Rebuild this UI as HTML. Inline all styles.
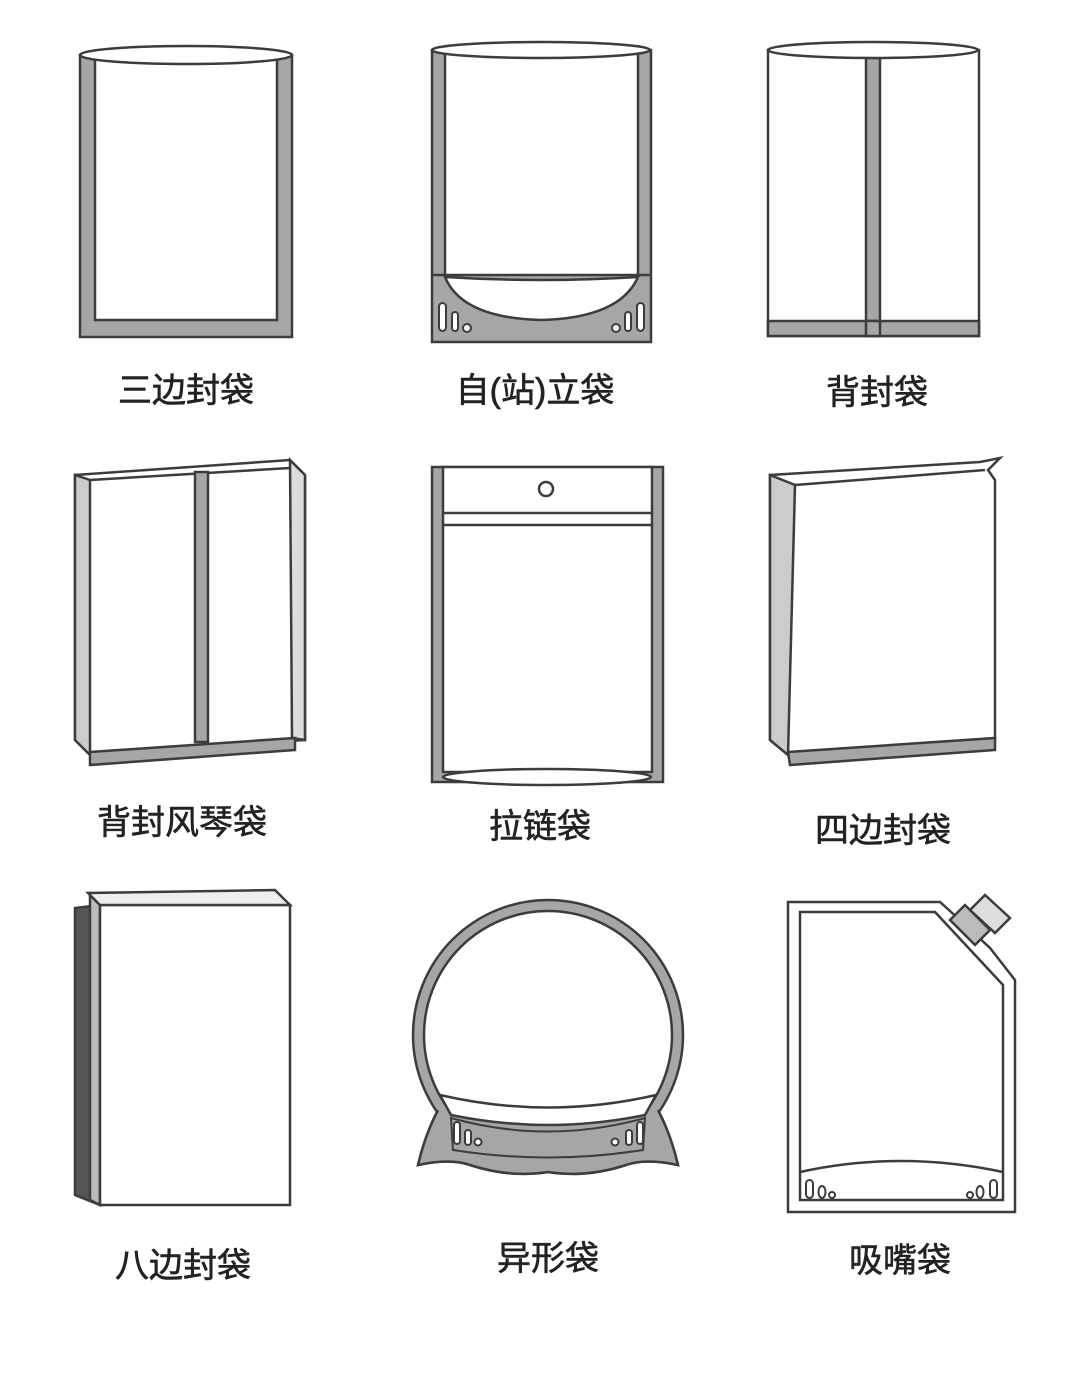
<!DOCTYPE html>
<html><head><meta charset="utf-8"><style>
html,body{margin:0;padding:0;background:#fff}
svg{display:block}
text{font-family:"Liberation Sans","Noto Sans CJK SC",sans-serif;font-size:34px;fill:#222;stroke:#222;stroke-width:0.6;text-anchor:middle}
</style></head><body>
<svg width="1080" height="1375" viewBox="0 0 1080 1375" xmlns="http://www.w3.org/2000/svg">
<g stroke="#3c3c3c" stroke-width="2.5" fill="#fff">
<!-- Bag 1 -->
<rect x="80" y="55" width="212" height="282" fill="#a6a6a6"/>
<rect x="95" y="55" width="182" height="265" fill="#fff"/>
<ellipse cx="186" cy="55" rx="106" ry="9"/>

<!-- Bag 2 -->
<rect x="432" y="50" width="219" height="292" fill="#a6a6a6"/>
<rect x="445" y="50" width="193" height="225" fill="#fff" stroke="none"/>
<path d="M445 276 L445 50 M638 50 L638 276" fill="none"/>
<line x1="432" y1="275" x2="651" y2="275"/>
<path d="M445 277 Q541 283 638 277 Q620 318 541 320 Q462 318 445 277 Z" fill="#fff"/>
<g fill="#fff" stroke-width="2">
<rect x="439" y="303" width="7" height="28" rx="3.5"/><rect x="452" y="312" width="6" height="19" rx="3"/><circle cx="467" cy="328" r="4"/>
<rect x="637" y="303" width="7" height="28" rx="3.5"/><rect x="625" y="312" width="6" height="19" rx="3"/><circle cx="616" cy="328" r="4"/>
</g>
<ellipse cx="541" cy="50" rx="109" ry="8"/>

<!-- Bag 3 -->
<rect x="768" y="50" width="211" height="286"/>
<rect x="866" y="58" width="14" height="278" fill="#a6a6a6"/>
<rect x="768" y="321" width="211" height="15" fill="#a6a6a6"/>
<rect x="866" y="321" width="14" height="15" fill="#a6a6a6"/>
<ellipse cx="873" cy="50" rx="105" ry="8"/>

<!-- Bag 4 -->
<path d="M75 475 L290 460 L305 475 L305 740 L90 755 L75 740 Z" fill="#fff"/>
<path d="M75 475 L90 480 L90 755 L75 740 Z" fill="#ccc"/>
<path d="M290 460 L305 475 L305 740 L292 738 Z" fill="#ddd"/>
<path d="M90 480 L290 468" fill="none"/>
<rect x="195" y="472" width="13" height="270" fill="#a6a6a6"/>
<path d="M90 752 L295 738 L295 750 L90 765 Z" fill="#a6a6a6"/>

<!-- Bag 5 -->
<rect x="432" y="467" width="231" height="315" fill="#a6a6a6"/>
<rect x="443" y="467" width="209" height="305" fill="#fff"/>
<circle cx="546" cy="489" r="7"/>
<line x1="443" y1="513" x2="652" y2="513"/><line x1="443" y1="525" x2="652" y2="525"/>
<ellipse cx="547" cy="777" rx="104" ry="8"/>

<!-- Bag 6 -->
<path d="M770 475 L980 462 L1000 458 L988 470 L995 480 L995 740 L788 755 L770 740 Z" fill="#fff"/>
<path d="M770 475 L795 485 L788 755 L770 740 Z" fill="#ccc"/>
<path d="M795 485 L985 470" fill="none"/>
<path d="M788 752 L995 738 L995 750 L790 765 Z" fill="#a6a6a6"/>

<!-- Bag 7 -->
<path d="M75 908 L100 905 L100 1205 L75 1195 Z" fill="#555"/>
<path d="M90 895 L100 905 L100 1205 L90 1200 Z" fill="#bbb"/>
<rect x="100" y="905" width="190" height="300"/>
<path d="M275 890 L290 905 L100 905 L88 893 Z" fill="#eee"/>

<!-- Bag 8 -->
<path d="M438 1110 Q425 1135 418 1165 Q450 1158 470 1165 Q510 1178 548 1172 Q586 1178 626 1165 Q646 1158 678 1165 Q671 1135 658 1110 Z" fill="#a6a6a6"/>
<circle cx="548" cy="1035" r="135" fill="#a6a6a6"/>
<circle cx="548" cy="1035" r="124" fill="#fff"/>
<path d="M438 1110 Q425 1135 418 1165 Q450 1158 470 1165 Q510 1178 548 1172 Q586 1178 626 1165 Q646 1158 678 1165 Q671 1135 658 1110" fill="#a6a6a6"/>
<path d="M440 1095 Q548 1120 656 1095 L645 1115 Q548 1135 451 1115 Z" fill="#fff"/>
<path d="M451 1118 Q548 1145 645 1118 L643 1150 Q548 1165 453 1150 Z" fill="#a6a6a6" stroke-width="2"/>
<g fill="#fff" stroke-width="2">
<rect x="454" y="1122" width="6" height="22" rx="3"/><rect x="465" y="1130" width="6" height="15" rx="3"/><circle cx="478" cy="1142" r="3.5"/>
<rect x="637" y="1122" width="6" height="22" rx="3"/><rect x="626" y="1130" width="6" height="15" rx="3"/><circle cx="615" cy="1142" r="3.5"/>
</g>

<!-- Bag 9 -->
<path d="M788 902 L940 902 L960 920 L990 948 L1015 980 L1015 1212 L788 1212 Z" fill="#fff"/>
<path d="M800 912 L935 912 L1003 985 L1003 1200 L800 1200 Z" fill="#fff"/>
<path d="M950 920 L965 905 L990 930 L975 945 Z" fill="#bbb"/>
<path d="M970 910 L985 895 L1010 918 L995 933 Z" fill="#ddd"/>
<path d="M800 1172 Q900 1150 1003 1172" fill="none"/>
<g fill="none" stroke-width="2">
<rect x="806" y="1180" width="7" height="18" rx="3.5"/><ellipse cx="822" cy="1192" rx="3.5" ry="6"/><circle cx="832" cy="1195" r="3"/>
<rect x="990" y="1180" width="7" height="18" rx="3.5"/><ellipse cx="980" cy="1192" rx="3.5" ry="6"/><circle cx="970" cy="1195" r="3"/>
</g>
</g>

<text x="186" y="402">三边封袋</text>
<text x="535" y="402">自(站)立袋</text>
<text x="877" y="404">背封袋</text>
<text x="182" y="834">背封风琴袋</text>
<text x="540" y="838">拉链袋</text>
<text x="883" y="842">四边封袋</text>
<text x="183" y="1277">八边封袋</text>
<text x="548" y="1270">异形袋</text>
<text x="900" y="1272">吸嘴袋</text>
</svg>
</body></html>
